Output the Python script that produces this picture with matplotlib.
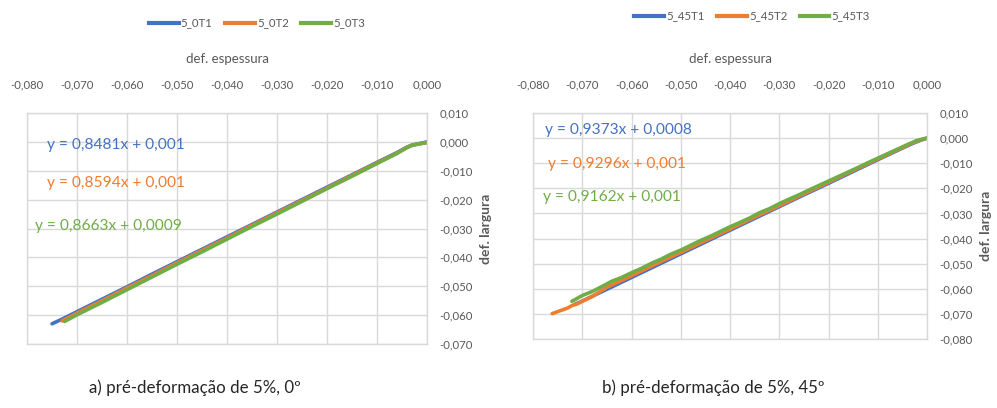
import matplotlib
matplotlib.use("Agg")
import matplotlib.pyplot as plt
from matplotlib.ticker import FuncFormatter, MultipleLocator

plt.rcParams['font.family'] = ['Lato', 'DejaVu Sans']

BLUE = '#4472C4'
ORANGE = '#ED7D31'
GREEN = '#70AD47'
GRID = '#D9D9D9'
TXT = '#595959'

# ---- a) 0 degrees ----
labels_0 = ['5_0T1', '5_0T2', '5_0T3']
x_0T1 = [-0.0750, -0.0730, -0.0700, -0.0650, -0.0600, -0.0550, -0.0500, -0.0450, -0.0400, -0.0350,
         -0.0300, -0.0250, -0.0200, -0.0150, -0.0100, -0.0060, -0.0040, -0.0030, -0.0015, 0.0000]
y_0T1 = [-0.0630, -0.0614, -0.0588, -0.0545, -0.0502, -0.0458, -0.0415, -0.0372, -0.0329, -0.0286,
         -0.0243, -0.0200, -0.0157, -0.0114, -0.0071, -0.0037, -0.0018, -0.0011, -0.0006, 0.0000]
x_0T2 = [-0.0730, -0.0700, -0.0650, -0.0600, -0.0550, -0.0500, -0.0450, -0.0400, -0.0350, -0.0300,
         -0.0250, -0.0200, -0.0150, -0.0100, -0.0060, -0.0040, -0.0030, -0.0015, 0.0000]
y_0T2 = [-0.0620, -0.0593, -0.0550, -0.0506, -0.0463, -0.0419, -0.0376, -0.0333, -0.0289, -0.0246,
         -0.0203, -0.0160, -0.0116, -0.0073, -0.0039, -0.0019, -0.0012, -0.0007, -0.0002]
x_0T3 = [-0.0725, -0.0700, -0.0650, -0.0600, -0.0550, -0.0500, -0.0450, -0.0400, -0.0350, -0.0300,
         -0.0250, -0.0200, -0.0150, -0.0100, -0.0060, -0.0040, -0.0030, -0.0015, 0.0000]
y_0T3 = [-0.0622, -0.0599, -0.0556, -0.0512, -0.0468, -0.0424, -0.0381, -0.0337, -0.0293, -0.0250,
         -0.0206, -0.0162, -0.0119, -0.0075, -0.0040, -0.0020, -0.0012, -0.0006, -0.0003]
eq_0 = ['y = 0,8481x + 0,001', 'y = 0,8594x + 0,001', 'y = 0,8663x + 0,0009']

# ---- b) 45 degrees ----
labels_45 = ['5_45T1', '5_45T2', '5_45T3']
x_45T1 = [-0.0715, -0.0700, -0.0650, -0.0600, -0.0550, -0.0500, -0.0450, -0.0400, -0.0350, -0.0300,
          -0.0250, -0.0200, -0.0150, -0.0100, -0.0050, -0.0030, -0.0015, 0.0000]
y_45T1 = [-0.0662, -0.0649, -0.0602, -0.0555, -0.0508, -0.0461, -0.0414, -0.0367, -0.0320, -0.0273,
          -0.0226, -0.0180, -0.0133, -0.0086, -0.0040, -0.0022, -0.0010, 0.0000]
x_45T2 = [-0.0761, -0.0750, -0.0740, -0.0730, -0.0720, -0.0710, -0.0700, -0.0680, -0.0650, -0.0600,
          -0.0550, -0.0500, -0.0450, -0.0400, -0.0350, -0.0300, -0.0250, -0.0200, -0.0150, -0.0100,
          -0.0050, -0.0030, -0.0015, 0.0000]
y_45T2 = [-0.0699, -0.0691, -0.0684, -0.0677, -0.0666, -0.0660, -0.0650, -0.0631, -0.0594, -0.0548,
          -0.0501, -0.0455, -0.0408, -0.0362, -0.0315, -0.0269, -0.0222, -0.0176, -0.0129, -0.0083,
          -0.0038, -0.0020, -0.0008, 0.0000]
x_45T3 = [-0.0721, -0.0700, -0.0680, -0.0660, -0.0640, -0.0620, -0.0600, -0.0580, -0.0560, -0.0540,
          -0.0520, -0.0500, -0.0480, -0.0460, -0.0440, -0.0420, -0.0400, -0.0380, -0.0360, -0.0340,
          -0.0320, -0.0300, -0.0280, -0.0260, -0.0240, -0.0220, -0.0200, -0.0180, -0.0160, -0.0140,
          -0.0120, -0.0100, -0.0080, -0.0060, -0.0040, -0.0020, 0.0000]
y_45T3 = [-0.0650, -0.0627, -0.0611, -0.0591, -0.0570, -0.0555, -0.0536, -0.0519, -0.0499, -0.0482,
          -0.0462, -0.0446, -0.0427, -0.0408, -0.0391, -0.0372, -0.0353, -0.0336, -0.0318, -0.0297,
          -0.0281, -0.0261, -0.0243, -0.0226, -0.0207, -0.0189, -0.0171, -0.0153, -0.0135, -0.0117,
          -0.0098, -0.0080, -0.0062, -0.0044, -0.0026, -0.0009, 0.0000]
eq_45 = ['y = 0,9373x + 0,0008', 'y = 0,9296x + 0,001', 'y = 0,9162x + 0,001']

captions = ['a) pré-deformação de 5%, 0º', 'b) pré-deformação de 5%, 45º']

W, H = 997, 408
fig = plt.figure(figsize=(W / 100, H / 100), dpi=100)


def px_axes(x0, y0, x1, y1):
    return fig.add_axes([x0 / W, 1 - y1 / H, (x1 - x0) / W, (y1 - y0) / H])


comma = FuncFormatter(lambda v, p: f"{v:.3f}".replace('.', ',').replace('-0,000', '0,000'))


def style(ax, ymin, ymax):
    ax.set_xlim(-0.080, 0.000)
    ax.set_ylim(ymin, ymax)
    ax.xaxis.set_major_locator(MultipleLocator(0.010))
    ax.yaxis.set_major_locator(MultipleLocator(0.010))
    ax.xaxis.set_major_formatter(comma)
    ax.yaxis.set_major_formatter(comma)
    ax.xaxis.tick_top()
    ax.yaxis.tick_right()
    ax.xaxis.set_label_position('top')
    ax.yaxis.set_label_position('right')
    ax.tick_params(axis='both', length=0, labelsize=8.2, labelcolor=TXT)
    ax.tick_params(axis='x', pad=16)
    ax.tick_params(axis='y', pad=9)
    ax.grid(True, color=GRID, lw=1.0)
    ax.set_axisbelow(True)
    for s in ax.spines.values():
        s.set_color(GRID)
        s.set_linewidth(1.0)
    ax.set_xlabel('def. espessura', fontsize=9.5, color=TXT, labelpad=12)
    ax.set_ylabel('def. largura', fontsize=10, color=TXT, labelpad=5, fontweight='bold')


def draw(ax, xs, ys, labels, colors):
    for x, y, lab, c in zip(xs, ys, labels, colors):
        ax.plot(x, y, color=c, lw=2.6, label=lab, solid_capstyle='round', solid_joinstyle='round')


colors = [BLUE, ORANGE, GREEN]
legend_kw = dict(loc='center', ncol=3, frameon=False, fontsize=8.2, handlelength=2.6,
                 handletextpad=0.2, columnspacing=1.1, labelcolor=TXT)

# left chart
axL = px_axes(27, 113, 427, 344)
style(axL, -0.070, 0.010)
draw(axL, [x_0T1, x_0T2, x_0T3], [y_0T1, y_0T2, y_0T3], labels_0, colors)
for txt, c, (px, py) in zip(eq_0, colors, [(47, 145), (47, 183), (35, 226)]):
    fig.text(px / W, 1 - py / H, txt, color=c, fontsize=11.2, va='center', ha='left')
fig.legend(handles=[plt.Line2D([], [], color=c, lw=3) for c in colors], labels=labels_0,
           bbox_to_anchor=(257 / W, 1 - 23 / H), **legend_kw)

# right chart
axR = px_axes(533, 113, 927, 339)
style(axR, -0.080, 0.010)
draw(axR, [x_45T1, x_45T2, x_45T3], [y_45T1, y_45T2, y_45T3], labels_45, colors)
for txt, c, (px, py) in zip(eq_45, colors, [(545, 130), (548, 164), (543, 197)]):
    fig.text(px / W, 1 - py / H, txt, color=c, fontsize=11.2, va='center', ha='left')
fig.legend(handles=[plt.Line2D([], [], color=c, lw=3) for c in colors], labels=labels_45,
           bbox_to_anchor=(752 / W, 1 - 16 / H), **legend_kw)

fig.text(195 / W, 1 - 388 / H, captions[0], fontsize=12.2, ha='center', va='center', color='#262626')
fig.text(713 / W, 1 - 388 / H, captions[1], fontsize=12.2, ha='center', va='center', color='#262626')

fig.savefig('out.png', dpi=100, facecolor='white')
